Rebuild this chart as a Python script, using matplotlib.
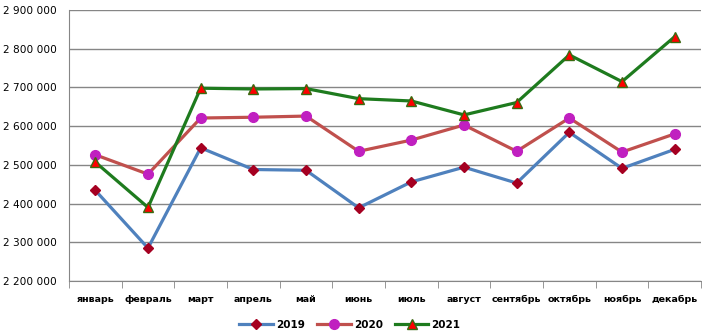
import matplotlib.pyplot as plt
from matplotlib.ticker import FuncFormatter, FixedLocator

months = ["январь", "февраль", "март", "апрель", "май", "июнь",
          "июль", "август", "сентябрь", "октябрь", "ноябрь", "декабрь"]

y2019 = [2434000, 2285000, 2544000, 2488000, 2486000, 2389000,
         2456000, 2494000, 2453000, 2584000, 2491000, 2540000]
y2020 = [2526000, 2476000, 2621000, 2623000, 2626000, 2535000,
         2564000, 2603000, 2535000, 2621000, 2533000, 2580000]
y2021 = [2507000, 2390000, 2698000, 2696000, 2697000, 2671000,
         2665000, 2629000, 2661000, 2784000, 2715000, 2831000]

plt.rcParams['font.family'] = 'DejaVu Sans'
plt.rcParams['font.weight'] = 'bold'

fig = plt.figure(figsize=(7.02, 3.36), dpi=100)
ax = fig.add_axes([69 / 702, 1 - 281 / 336, 632 / 702, 271 / 336])

x = list(range(len(months)))

ax.plot(x, y2019, color='#4F81BD', lw=2.3, marker='D', ms=5,
        mfc='#A50021', mec='#A50021', label='2019', zorder=3)
ax.plot(x, y2020, color='#C0504D', lw=2.3, marker='o', ms=7,
        mfc='#C020C0', mec='#C020C0', label='2020', zorder=4)
ax.plot(x, y2021, color='#1E7B1E', lw=2.3, marker='^', ms=7,
        mfc='#FF0000', mec='#3A6A10', label='2021', zorder=5)

ax.set_xlim(-0.5, len(months) - 0.5)
ax.set_ylim(2200000, 2900000)
ax.set_yticks(range(2200000, 2900001, 100000))
ax.yaxis.set_major_formatter(FuncFormatter(lambda v, p: f"{int(v):,}".replace(",", " ")))
ax.set_xticks(x)
ax.set_xticklabels(months)
ax.xaxis.set_minor_locator(FixedLocator([i - 0.5 for i in range(len(months) + 1)]))
ax.tick_params(axis='x', which='major', length=0, pad=10, labelsize=6.8)
ax.tick_params(axis='x', which='minor', length=5, color='#868686')
ax.tick_params(axis='y', length=0, pad=9, labelsize=7.6)
for lbl in ax.get_yticklabels():
    lbl.set_fontweight('normal')

ax.grid(axis='y', color='#868686', lw=1)
ax.set_axisbelow(True)
for s in ['top', 'right']:
    ax.spines[s].set_visible(False)
for s in ['left', 'bottom']:
    ax.spines[s].set_color('#868686')

fig.legend(loc='center', bbox_to_anchor=(350 / 702, 1 - 325 / 336), ncol=3,
           frameon=False, fontsize=7.5, handlelength=3.2, columnspacing=1.2,
           handletextpad=0.3)

fig.savefig('out.png', dpi=100)
